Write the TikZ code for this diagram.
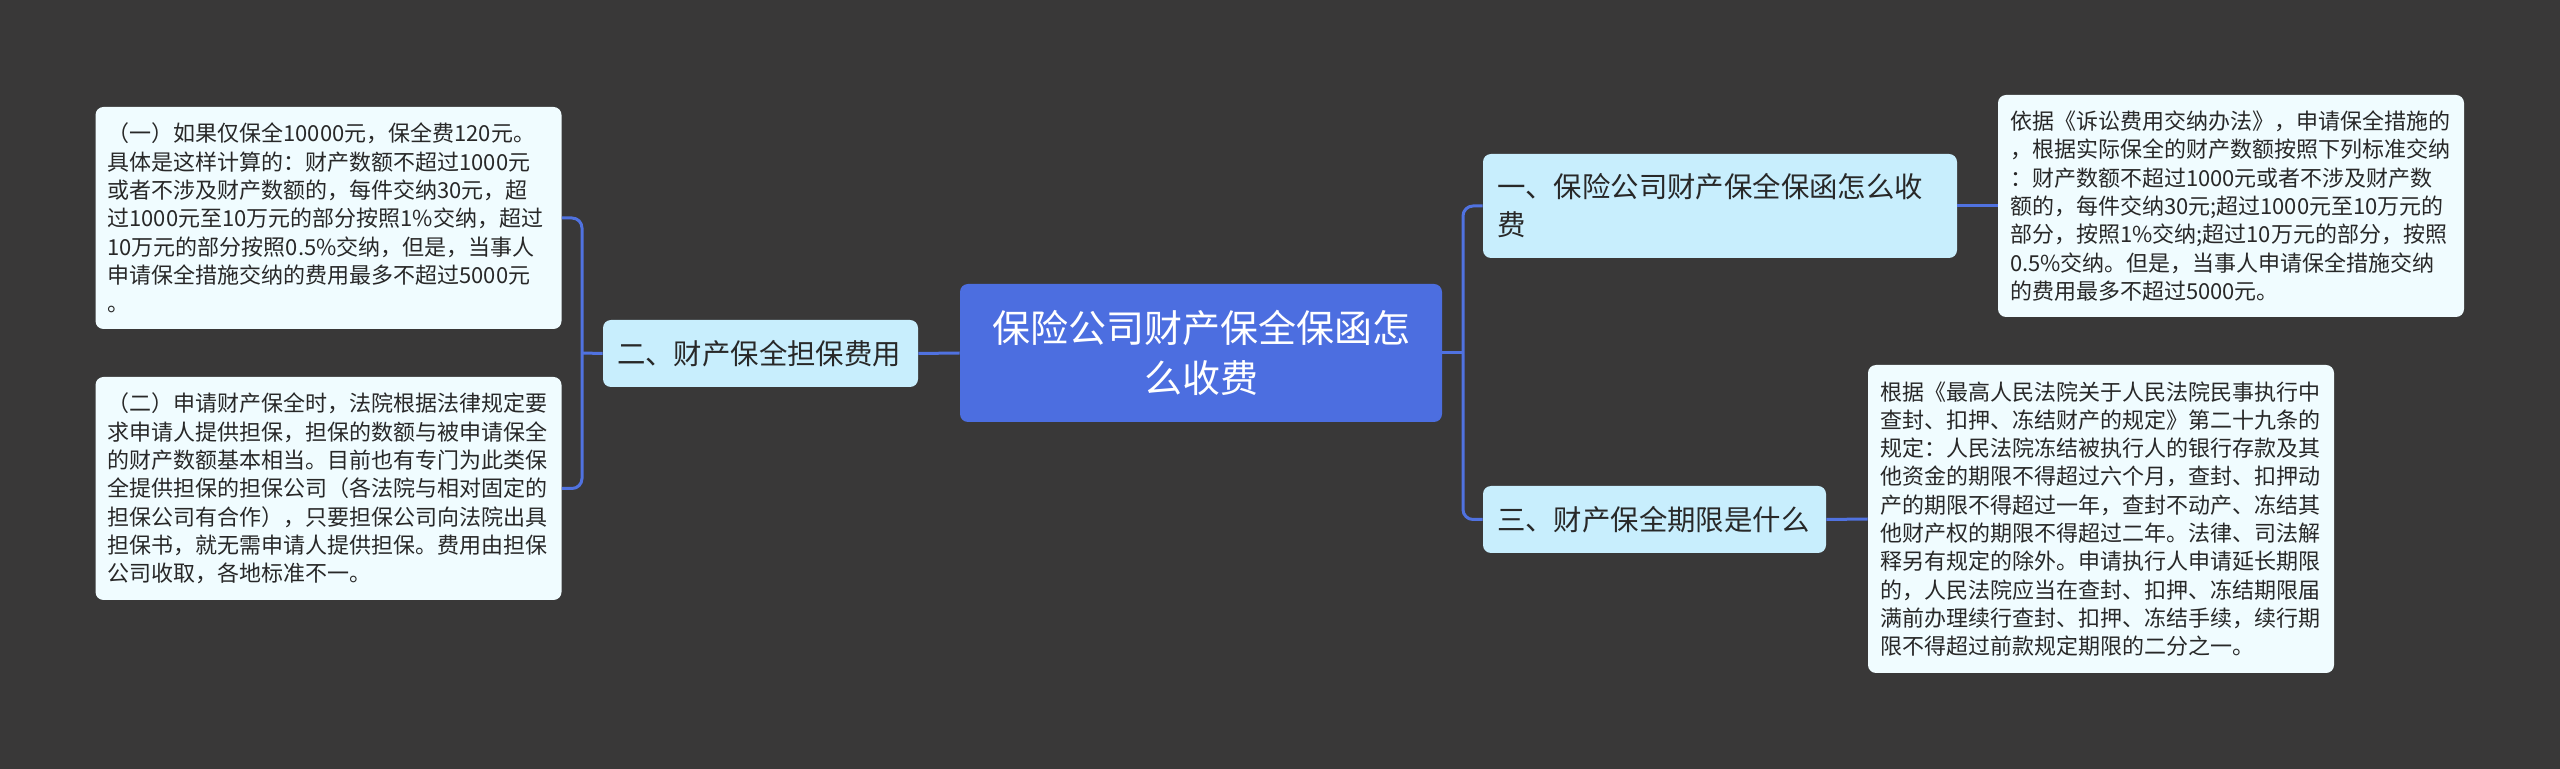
\documentclass[tikz,border=0pt]{standalone}
\usepackage{fontspec}
\setmainfont{Noto Sans CJK SC}
\definecolor{bgc}{RGB}{57,56,56}
\definecolor{rootc}{RGB}{76,110,224}
\definecolor{branchc}{RGB}{200,238,253}
\definecolor{leafc}{RGB}{240,252,255}
\definecolor{linec}{RGB}{80,114,224}
\definecolor{textc}{RGB}{40,40,40}
\begin{document}
\begin{tikzpicture}[x=0.5pt,y=-0.5pt,
  box/.style={rounded corners=4pt, inner ysep=0pt, anchor=center},
  rootbox/.style={box, fill=rootc, text=white, minimum width=241pt, minimum height=69pt,
    text width=225pt, inner xsep=8pt, align=center, font=\fontsize{19pt}{25pt}\selectfont},
  branchbox/.style={box, fill=branchc, text=textc, inner xsep=7pt, align=left,
    font=\fontsize{14.2pt}{19pt}\selectfont},
  leafbox/.style={box, fill=leafc, text=textc, inner xsep=6pt, text width=221pt, align=left,
    font=\fontsize{11pt}{14.15pt}\selectfont},
  conn/.style={draw=linec, line width=1.5pt, rounded corners=5pt}]
\fill[bgc] (0,0) rectangle (2560,769);
\useasboundingbox (0,0) rectangle (2560,769);
% nodes
\node[rootbox] (root) at (1201,353) {保险公司财产保全保函怎\\么收费};
\node[branchbox, minimum width=157.5pt, text width=143.5pt, minimum height=33.5pt] (b2) at (760.5,353.5) {二、财产保全担保费用};
\node[branchbox, minimum width=237pt, text width=223pt, minimum height=52pt] (b1) at (1720,206) {一、保险公司财产保全保函怎么收\\费};
\node[branchbox, minimum width=171.5pt, text width=157.5pt, minimum height=33.5pt] (b3) at (1654.5,519.5) {三、财产保全期限是什么};
\node[leafbox, minimum height=111pt] (l1) at (328.5,218) {（一）如果仅保全10000元，保全费120元。\\具体是这样计算的：财产数额不超过1000元\\或者不涉及财产数额的，每件交纳30元，超\\过1000元至10万元的部分按照1\%交纳，超过\\10万元的部分按照0.5\%交纳，但是，当事人\\申请保全措施交纳的费用最多不超过5000元\\。};
\node[leafbox, minimum height=111.5pt] (l2) at (328.5,488.5) {（二）申请财产保全时，法院根据法律规定要\\求申请人提供担保，担保的数额与被申请保全\\的财产数额基本相当。目前也有专门为此类保\\全提供担保的担保公司（各法院与相对固定的\\担保公司有合作），只要担保公司向法院出具\\担保书，就无需申请人提供担保。费用由担保\\公司收取，各地标准不一。};
\node[leafbox, minimum height=111pt] (r1) at (2231,206) {依据《诉讼费用交纳办法》，申请保全措施的\\，根据实际保全的财产数额按照下列标准交纳\\：财产数额不超过1000元或者不涉及财产数\\额的，每件交纳30元;超过1000元至10万元的\\部分，按照1\%交纳;超过10万元的部分，按照\\0.5\%交纳。但是，当事人申请保全措施交纳\\的费用最多不超过5000元。};
\node[leafbox, minimum height=154pt] (r3) at (2101,519) {根据《最高人民法院关于人民法院民事执行中\\查封、扣押、冻结财产的规定》第二十九条的\\规定：人民法院冻结被执行人的银行存款及其\\他资金的期限不得超过六个月，查封、扣押动\\产的期限不得超过一年，查封不动产、冻结其\\他财产权的期限不得超过二年。法律、司法解\\释另有规定的除外。申请执行人申请延长期限\\的，人民法院应当在查封、扣押、冻结期限届\\满前办理续行查封、扣押、冻结手续，续行期\\限不得超过前款规定期限的二分之一。};
% junction coordinates
\coordinate (lj) at (582,353);
\coordinate (rj) at (1463,353);
% connectors (drawn behind via layering order: draw first then redraw nodes not needed since lines end at edges)
\draw[conn] (root.west) -- (b2.east);
\draw[conn] (b2.west) -- (lj);
\draw[conn] (l1.east) -| (lj) |- (l2.east);
\draw[conn] (root.east) -- (rj);
\draw[conn] (b1.west) -| (rj) |- (b3.west);
\draw[conn] (b1.east) -- (r1.west);
\draw[conn] (b3.east) -- (r3.west);
\end{tikzpicture}
\end{document}
